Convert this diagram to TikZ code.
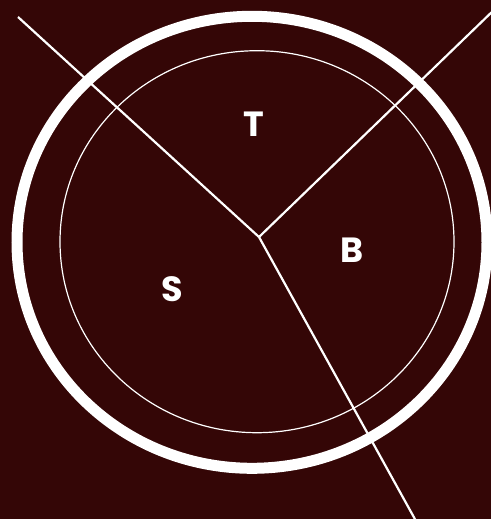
\documentclass[tikz,border=0pt]{standalone}
\usepackage{fontspec}
\newfontfamily\labelfont{Poppins}[BoldFont={* Bold}]
\definecolor{bgmaroon}{RGB}{52,6,6}
\tikzset{
  ring/.style={draw=white, line width=11pt},
  thinring/.style={draw=white, line width=1.2pt},
  spoke/.style={draw=white, line width=2.2pt},
  sector/.style={text=white, font=\labelfont\bfseries\fontsize{35}{35}\selectfont, inner sep=0pt}
}
\begin{document}
\begin{tikzpicture}[x=1pt,y=-1pt]
  \fill[bgmaroon] (0,0) rectangle (491,519);
  \useasboundingbox (0,0) rectangle (491,519);
  \begin{scope}
    \clip (0,0) rectangle (491,519);
    \draw[ring] (252,242.3) ellipse [x radius=235, y radius=226];
    \draw[thinring] (257,241.7) ellipse [x radius=197, y radius=191];
    \coordinate (c) at (259,237);
    \coordinate (ul) at (18,17);
    \coordinate (ur) at (496,8);
    \coordinate (bt) at (416,521);
    \draw[spoke] (ul) -- (c);
    \draw[spoke] (c) -- (ur);
    \draw[spoke] (c) -- (bt);
  \end{scope}
  \node[sector] (t) at (254,124) {T};
  \node[sector] (b) at (352,250) {B};
  \node[sector] (s) at (172.5,289) {S};
\end{tikzpicture}
\end{document}
